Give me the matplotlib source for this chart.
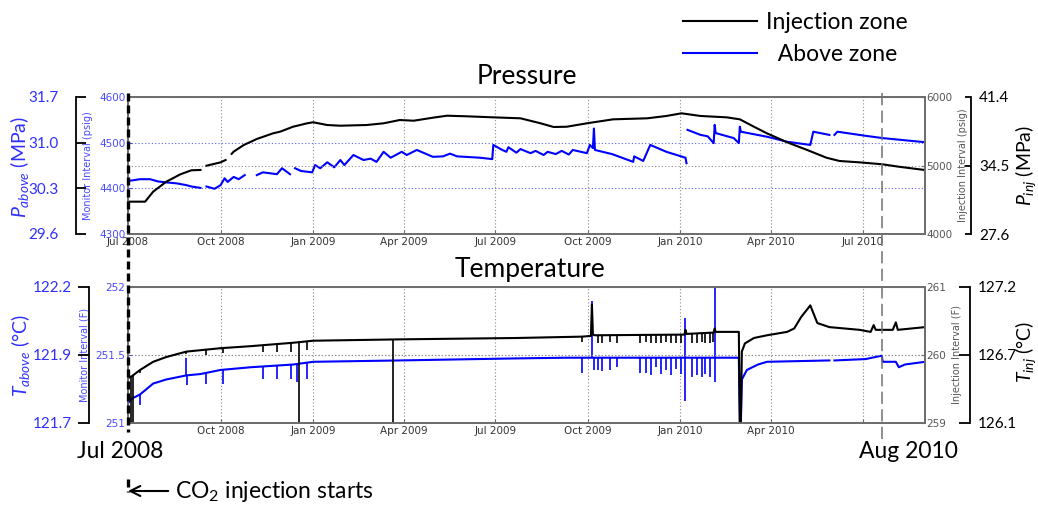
import numpy as np
import matplotlib
matplotlib.use("Agg")
import matplotlib.pyplot as plt
import matplotlib.dates as mdates
import matplotlib.transforms as mtransforms
from matplotlib.lines import Line2D
from matplotlib.ticker import FuncFormatter

plt.rcParams['font.family'] = ['Lato', 'DejaVu Sans']
plt.rcParams['mathtext.fontset'] = 'custom'
plt.rcParams['mathtext.rm'] = 'Lato'
plt.rcParams['mathtext.it'] = 'Lato:italic'
plt.rcParams['mathtext.bf'] = 'Lato:bold'

nan = np.nan

# ---------------- time window ----------------
x_start = "2008-07-01"
x_end = "2010-09-01"
injection_start = "2008-07-01"
end_marker = "2010-07-20"
tick_dates = ["2008-07-01", "2008-10-01", "2009-01-01", "2009-04-01", "2009-07-01",
              "2009-10-01", "2010-01-01", "2010-04-01", "2010-07-01"]

# ---------------- pressure, injection zone (psig) ----------------
inj_p_dates = ["2008-07-01", "2008-07-18", "2008-07-26", "2008-08-08", "2008-08-22",
               "2008-09-02", "2008-09-11", "2008-09-14", "2008-09-17", "2008-10-01",
               "2008-10-06", "2008-10-09", "2008-10-12", "2008-10-14", "2008-10-24",
               "2008-11-06", "2008-11-22", "2008-11-29", "2008-12-12", "2008-12-26",
               "2009-01-01", "2009-01-15", "2009-01-28", "2009-02-23", "2009-03-12",
               "2009-03-28", "2009-04-11", "2009-04-30", "2009-05-14", "2009-06-03",
               "2009-06-29", "2009-07-26", "2009-08-15", "2009-08-28", "2009-09-10",
               "2009-09-30", "2009-10-26", "2009-11-29", "2009-12-18", "2010-01-02",
               "2010-01-21", "2010-02-16", "2010-03-01", "2010-03-15", "2010-03-28",
               "2010-04-17", "2010-05-07", "2010-05-26", "2010-06-08", "2010-06-28",
               "2010-07-21", "2010-08-06", "2010-09-01"]
inj_p_psig = [4472, 4472, 4618, 4763, 4871,
              4930, 4935, nan, 4997, 5046,
              5080, nan, 5170, 5202, 5299,
              5387, 5469, 5493, 5566, 5616,
              5631, 5591, 5581, 5591, 5616,
              5664, 5654, 5698, 5727, 5718,
              5703, 5689, 5616, 5562, 5566,
              5616, 5674, 5689, 5723, 5762,
              5723, 5703, 5674, 5566, 5469,
              5339, 5226, 5114, 5066, 5046,
              5017, 4982, 4934]

# ---------------- pressure, above zone (psig) ----------------
abv_p_dates = ["2008-07-01", "2008-07-13", "2008-07-23", "2008-07-31", "2008-08-08",
               "2008-08-18", "2008-08-28", "2008-09-02", "2008-09-11", "2008-09-14",
               "2008-09-17", "2008-09-25", "2008-10-01", "2008-10-05", "2008-10-08",
               "2008-10-14", "2008-10-19", "2008-10-25", "2008-10-29", "2008-11-03",
               "2008-11-05", "2008-11-06", "2008-11-12", "2008-11-26", "2008-12-01",
               "2008-12-09", "2008-12-11", "2008-12-14", "2008-12-20", "2008-12-31",
               "2009-01-03", "2009-01-08", "2009-01-15", "2009-01-22", "2009-01-28",
               "2009-02-01", "2009-02-10", "2009-02-20", "2009-02-27", "2009-03-05",
               "2009-03-12", "2009-03-19", "2009-03-30", "2009-04-04", "2009-04-14",
               "2009-04-30", "2009-05-10", "2009-05-17", "2009-05-24", "2009-06-16",
               "2009-06-28", "2009-06-29", "2009-07-08", "2009-07-12", "2009-07-14",
               "2009-07-22", "2009-07-26", "2009-08-05", "2009-08-10", "2009-08-18",
               "2009-08-22", "2009-08-30", "2009-09-05", "2009-09-12", "2009-09-16",
               "2009-09-30", "2009-10-03", "2009-10-06", "2009-10-07", "2009-10-08",
               "2009-10-25", "2009-11-15", "2009-11-16", "2009-11-25", "2009-12-02",
               "2009-12-18", "2010-01-06", "2010-01-07", "2010-01-07", "2010-01-08",
               "2010-01-21", "2010-01-28", "2010-02-03", "2010-02-04", "2010-02-05",
               "2010-02-23", "2010-02-28", "2010-03-01", "2010-03-02", "2010-03-28",
               "2010-04-17", "2010-05-10", "2010-05-13", "2010-05-29", "2010-06-01",
               "2010-06-03", "2010-06-06", "2010-07-04", "2010-07-21", "2010-09-01"]
abv_p_psig = [4416, 4420, 4420, 4415, 4413,
              4411, 4407, 4404, 4401, nan,
              4404, 4399, 4407, 4422, 4414,
              4425, 4420, 4429, nan, 4422,
              nan, 4429, 4435, 4431, 4444,
              4431, nan, 4444, 4438, 4435,
              4451, 4444, 4457, 4446, 4462,
              4451, 4473, 4462, 4465, 4458,
              4480, 4467, 4480, 4473, 4484,
              4469, 4470, 4476, 4470, 4467,
              4464, 4495, 4484, 4480, 4490,
              4478, 4486, 4477, 4482, 4473,
              4480, 4475, 4482, 4474, 4484,
              4477, 4495, 4488, 4531, 4484,
              4475, 4458, 4470, 4460, 4495,
              4480, 4467, 4455, nan, 4528,
              4517, 4514, 4499, 4539, 4521,
              4510, 4499, 4535, 4524, 4513,
              4502, 4495, 4524, 4517, nan,
              4517, 4524, 4515, 4510, 4501]

# ---------------- temperature, injection zone (F) ----------------
inj_t_dates = ["2008-07-01", "2008-07-05", "2008-07-13", "2008-07-26", "2008-08-08",
               "2008-08-28", "2008-10-01", "2008-10-31", "2008-12-12", "2009-01-01",
               "2009-03-28", "2009-07-22", "2009-09-25", "2009-10-04", "2009-10-05",
               "2009-10-06", "2009-10-08", "2010-01-05", "2010-01-06", "2010-01-07",
               "2010-02-03", "2010-02-04", "2010-02-05", "2010-02-28", "2010-03-01",
               "2010-03-02", "2010-03-03", "2010-03-06", "2010-03-15", "2010-03-28",
               "2010-04-17", "2010-04-24", "2010-05-01", "2010-05-09", "2010-05-10",
               "2010-05-17", "2010-05-29", "2010-06-28", "2010-07-09", "2010-07-12",
               "2010-07-14", "2010-07-31", "2010-08-03", "2010-08-05", "2010-09-01"]
inj_t_f = [259.66, 259.69, 259.78, 259.90, 259.97,
           260.05, 260.10, 260.13, 260.18, 260.21,
           260.23, 260.25, 260.27, 260.28, 260.74,
           260.30, 260.29, 260.30, 260.37, 260.31,
           260.33, 260.39, 260.34, 260.34, 259.00,
           259.00, 260.05, 260.17, 260.25, 260.29,
           260.34, 260.39, 260.56, 260.71, 260.73,
           260.47, 260.41, 260.37, 260.34, 260.44,
           260.37, 260.37, 260.48, 260.37, 260.41]

# short drops in the injection-zone temperature record
inj_t_drop_dates = ["2008-07-04", "2008-07-06", "2008-07-13", "2008-08-28", "2008-09-17",
                    "2008-10-03", "2008-11-12", "2008-11-26", "2008-12-10", "2008-12-18",
                    "2008-12-26", "2009-03-21", "2009-09-25", "2009-10-11", "2009-10-15",
                    "2009-10-23", "2009-10-30", "2009-11-22", "2009-11-28", "2009-12-03",
                    "2009-12-08", "2009-12-13", "2009-12-18", "2009-12-23", "2009-12-28",
                    "2010-01-02", "2010-01-12", "2010-01-17", "2010-01-22", "2010-01-25",
                    "2010-01-30", "2010-02-02"]
inj_t_drop_f = [259.00, 259.00, 259.73, 260.01, 260.00,
                260.03, 260.05, 260.05, 260.05, 259.00,
                260.07, 259.00, 260.19, 260.17, 260.18,
                260.19, 260.18, 260.18, 260.19, 260.17,
                260.18, 260.17, 260.19, 260.17, 260.18,
                260.17, 260.18, 260.17, 260.19, 260.18,
                260.17, 260.19]

# ---------------- temperature, above zone (F) ----------------
abv_t_dates = ["2008-07-01", "2008-07-05", "2008-07-13", "2008-07-26", "2008-08-08",
               "2008-08-28", "2008-09-11", "2008-10-01", "2008-10-31", "2008-12-12",
               "2009-01-01", "2009-03-28", "2009-07-22", "2009-09-10", "2010-02-28",
               "2010-03-01", "2010-03-02", "2010-03-03", "2010-03-08", "2010-03-19",
               "2010-03-28", "2010-05-29", "2010-06-01", "2010-06-03", "2010-07-04",
               "2010-07-20", "2010-07-21", "2010-08-03", "2010-08-06", "2010-08-12",
               "2010-09-01"]
abv_t_f = [251.145, 251.18, 251.21, 251.29, 251.32,
           251.35, 251.36, 251.39, 251.41, 251.43,
           251.45, 251.46, 251.475, 251.48, 251.48,
           251.00, 251.00, 251.32, 251.39, 251.43,
           251.45, 251.46, nan, 251.46, 251.47,
           251.495, 251.45, 251.45, 251.41, 251.43,
           251.45]

# short excursions in the above-zone temperature record
abv_t_spike_dates = ["2008-07-13", "2008-08-28", "2008-08-29", "2008-09-17", "2008-10-03",
                     "2008-11-12", "2008-11-26", "2008-12-10", "2008-12-16", "2008-12-26",
                     "2009-09-25", "2009-10-05", "2009-10-07", "2009-10-11", "2009-10-15",
                     "2009-10-23", "2009-10-30", "2009-11-22", "2009-11-28", "2009-12-03",
                     "2009-12-08", "2009-12-13", "2009-12-18", "2009-12-23", "2009-12-28",
                     "2010-01-02", "2010-01-06", "2010-01-06", "2010-01-12", "2010-01-17",
                     "2010-01-22", "2010-01-25", "2010-01-30", "2010-02-04", "2010-02-04"]
abv_t_spike_f = [251.13, 251.48, 251.28, 251.29, 251.29,
                 251.32, 251.32, 251.32, 251.30, 251.32,
                 251.37, 251.90, 251.39, 251.39, 251.38,
                 251.39, 251.41, 251.37, 251.37, 251.35,
                 251.41, 251.36, 251.39, 251.35, 251.40,
                 251.36, 251.77, 251.16, 251.34, 251.35,
                 251.34, 251.36, 251.34, 252.00, 251.30]

# ---------------- styling ----------------
BLUE = "#0000ff"
TICK_BLUE = "#4a4aff"
LABEL_BLUE = "#3030ff"
FRAME = "#6e6e6e"
GRIDC = "#8c8c8c"
NARROW = "Liberation Sans Narrow"
W, H = 1038, 505
BIG = 16.5


def dnum(lst):
    return mdates.date2num(np.array(lst, dtype="datetime64[D]"))


def psig_to_mpa(v):
    return v * 0.00689476


def f_to_c(v):
    return (v - 32.0) * 5.0 / 9.0


def px_rect(left, top, right, bottom):
    return [left / W, 1 - bottom / H, (right - left) / W, (bottom - top) / H]


def fy(px):
    return 1 - px / H


fig = plt.figure(figsize=(W / 100, H / 100), dpi=100)
fig.patch.set_facecolor("white")


def style_pair(ax_l, ax_r, yl, yr, lticks, rticks, lgrid_color, rgrid_color,
               llabel, rlabel, hide_dates):
    ax_l.set_xlim(dnum([x_start])[0], dnum([x_end])[0])
    ax_l.set_ylim(*yl)
    ax_r.set_ylim(*yr)
    ax_l.set_xticks(dnum(tick_dates))
    labels = [np.datetime64(t, "D").astype(object).strftime("%b %Y") for t in tick_dates]
    if hide_dates:
        labels = ["" if t in hide_dates else lab for t, lab in zip(tick_dates, labels)]
    ax_l.set_xticklabels(labels, fontfamily=NARROW, fontsize=7.5, color="#333333")
    ax_l.tick_params(axis="x", direction="in", length=3, pad=2, color=FRAME)
    ax_l.set_yticks(lticks)
    ax_l.set_yticklabels([f"{v:g}" for v in lticks], fontfamily=NARROW, fontsize=7.5,
                         color=TICK_BLUE)
    ax_l.tick_params(axis="y", direction="in", length=3, pad=2, color=TICK_BLUE)
    ax_r.set_yticks(rticks)
    ax_r.set_yticklabels([f"{v:g}" for v in rticks], fontfamily=NARROW, fontsize=7.5,
                         color="#555555")
    ax_r.tick_params(axis="y", direction="in", length=3, pad=1, color=FRAME)
    ax_l.grid(axis="x", color=GRIDC, linestyle=(0, (1, 2)), linewidth=0.8)
    ax_l.grid(axis="y", color=lgrid_color, linestyle=(0, (1, 2)), linewidth=0.8)
    ax_r.grid(axis="y", color=rgrid_color, linestyle=(0, (1, 2)), linewidth=0.8)
    ax_l.set_axisbelow(True)
    for a in (ax_l, ax_r):
        for s in a.spines.values():
            s.set_color(FRAME)
            s.set_linewidth(1.3)
    ax_l.set_ylabel(llabel, fontfamily=NARROW, fontsize=7, color=TICK_BLUE, labelpad=4)
    ax_r.set_ylabel(rlabel, fontfamily=NARROW, fontsize=7, color="#555555", labelpad=4)


def outer_axis(host, side, outward_px, direction, length_px, pad_px, ticks, conv, color):
    # an extra bracket-style scale sitting outside the panel, converted units
    o = fig.add_axes(host.get_position(), sharex=host, facecolor="none")
    o.set_ylim(host.get_ylim())
    o.xaxis.set_visible(False)
    for s in o.spines.values():
        s.set_visible(False)
    sp = o.spines[side]
    sp.set_visible(True)
    sp.set_position(("outward", outward_px * 0.72))
    sp.set_bounds(ticks[0], ticks[-1])
    sp.set_color("black")
    sp.set_linewidth(1.3)
    o.yaxis.set_ticks_position(side)
    o.set_yticks(ticks)
    o.yaxis.set_major_formatter(FuncFormatter(lambda v, p: f"{conv(v):.1f}"))
    o.tick_params(axis="y", direction=direction, length=length_px * 0.72,
                  width=1.3, pad=pad_px * 0.72, labelcolor=color, labelsize=11,
                  color="black")
    o.grid(False)
    return o


# ---------------- pressure panel ----------------
ax_p = fig.add_axes(px_rect(128, 97, 925, 234))
ax_pr = ax_p.twinx()
ax_p.plot(dnum(abv_p_dates), abv_p_psig, color=BLUE, lw=1.5)
ax_pr.plot(dnum(inj_p_dates), inj_p_psig, color="black", lw=1.5)
style_pair(ax_p, ax_pr, (4300, 4600), (4000, 6000), [4300, 4400, 4500, 4600],
           [4000, 5000, 6000], "#6060ff", GRIDC,
           "Monitor Interval (psig)", "Injection Interval (psig)", None)
outer_axis(ax_p, "left", 52, "in", 10, 17, [4300, 4400, 4500, 4600], psig_to_mpa, LABEL_BLUE)
outer_axis(ax_pr, "right", 46, "in", 6, 8, [4000, 5000, 6000], psig_to_mpa, "black")

# ---------------- temperature panel ----------------
ax_t = fig.add_axes(px_rect(128, 287, 925, 423))
ax_tr = ax_t.twinx()
abv_spike_x = dnum(abv_t_spike_dates)
ax_t.vlines(abv_spike_x,
            np.interp(abv_spike_x, dnum(abv_t_dates), np.nan_to_num(abv_t_f, nan=251.46)),
            abv_t_spike_f, color=BLUE, lw=1.2)
ax_t.plot(dnum(abv_t_dates), abv_t_f, color=BLUE, lw=1.5)
inj_drop_x = dnum(inj_t_drop_dates)
ax_tr.vlines(inj_drop_x, np.interp(inj_drop_x, dnum(inj_t_dates), inj_t_f),
             inj_t_drop_f, color="black", lw=1.2)
ax_tr.plot(dnum(inj_t_dates), inj_t_f, color="black", lw=1.5)
style_pair(ax_t, ax_tr, (251, 252), (259, 261), [251, 251.5, 252], [259, 260, 261],
           GRIDC, GRIDC, "Monitor Interval (F)", "Injection Interval (F)",
           {"2008-07-01", "2010-07-01"})
outer_axis(ax_t, "left", 39, "out", 11, 6, [251, 251.5, 252], f_to_c, LABEL_BLUE)
outer_axis(ax_tr, "right", 45, "in", 11, 8, [259, 260, 261], f_to_c, "black")

# ---------------- panel titles ----------------
fig.text(527 / W, fy(76), "Pressure", fontsize=19, ha="center", va="center")
fig.text(530 / W, fy(270), "Temperature", fontsize=19, ha="center", va="center")

# ---------------- outer axis titles ----------------
fig.text(20 / W, fy(167), r"$P_{above}$ (MPa)", rotation=90, color=LABEL_BLUE,
         fontsize=14, ha="center", va="center")
fig.text(1026 / W, fy(165), r"$P_{inj}$ (MPa)", rotation=90, color="black",
         fontsize=14, ha="center", va="center")
fig.text(20 / W, fy(355), r"$T_{above}$ (°C)", rotation=90, color=LABEL_BLUE,
         fontsize=14, ha="center", va="center")
fig.text(1026 / W, fy(352), r"$T_{inj}$ (°C)", rotation=90, color="black",
         fontsize=14, ha="center", va="center")

# ---------------- event markers ----------------
blend = mtransforms.blended_transform_factory(ax_t.transData, fig.transFigure)
x_inj = dnum([injection_start])[0]
x_end_marker = dnum([end_marker])[0]
fig.add_artist(Line2D([x_inj, x_inj], [fy(93), fy(432)], transform=blend,
                      color="black", lw=2.4, dashes=(2.4, 1.2), zorder=10))
fig.add_artist(Line2D([x_inj, x_inj], [fy(479), fy(492)], transform=blend,
                      color="black", lw=2.4, dashes=(2.4, 1.2), zorder=10))
fig.add_artist(Line2D([x_end_marker, x_end_marker], [fy(93), fy(442)],
                      transform=blend, color="#707070", lw=1.1, dashes=(8, 3.5), zorder=10))

fig.text(120 / W, fy(452), "Jul 2008", fontsize=BIG, ha="center", va="center")
fig.text(908 / W, fy(452), "Aug 2010", fontsize=BIG, ha="center", va="center")

ax_t.annotate("", xy=(x_inj, fy(491)), xycoords=blend,
              xytext=(x_inj + 40, fy(491)), textcoords=blend,
              arrowprops=dict(arrowstyle="->", color="black", lw=1.5,
                              mutation_scale=18, shrinkA=0, shrinkB=0))
fig.text(175 / W, fy(491), r"CO$_2$ injection starts", fontsize=BIG,
         ha="left", va="center")

# ---------------- legend ----------------
handles = [Line2D([], [], color="black", lw=1.5), Line2D([], [], color=BLUE, lw=1.5)]
fig.legend(handles, ["Injection zone", "  Above zone"], loc="upper left",
           bbox_to_anchor=(683 / W, fy(12)), frameon=False, fontsize=BIG,
           handlelength=3.23, handletextpad=0.39, labelspacing=0.46,
           borderpad=0, borderaxespad=0)

fig.savefig("out.png", dpi=100, facecolor="white")
